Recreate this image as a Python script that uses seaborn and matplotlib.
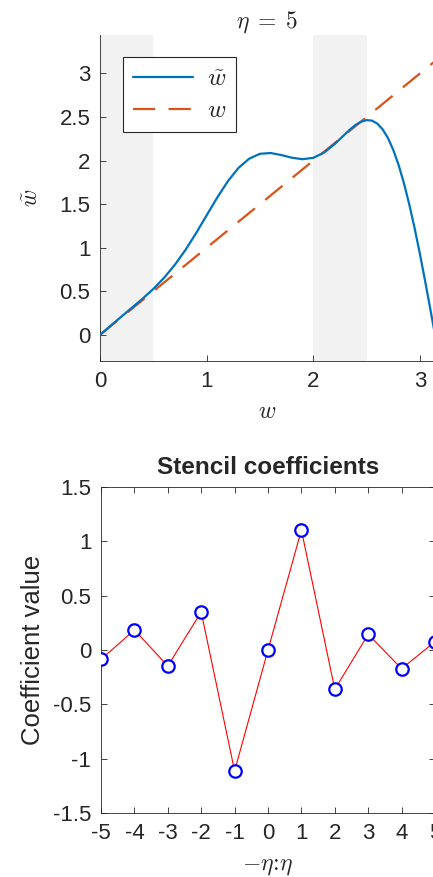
import matplotlib
matplotlib.use("Agg")
import matplotlib.pyplot as plt
import seaborn as sns

# modified wavenumber curve
w_grid = [0.0, 0.1, 0.2, 0.3, 0.4, 0.5, 0.6, 0.7, 0.8, 0.9, 1.0, 1.1, 1.2, 1.3,
          1.4, 1.5, 1.6, 1.7, 1.8, 1.9, 2.0, 2.1, 2.2, 2.3, 2.35, 2.4, 2.45, 2.5,
          2.55, 2.6, 2.65, 2.7, 2.75, 2.8, 2.85, 2.9, 2.95, 3.0, 3.05, 3.1, 3.1416]
w_tilde = [0.0, 0.105, 0.209, 0.312, 0.416, 0.527, 0.654, 0.801, 0.972, 1.165,
           1.372, 1.577, 1.765, 1.918, 2.023, 2.078, 2.087, 2.064, 2.033, 2.016,
           2.032, 2.091, 2.189, 2.306, 2.363, 2.412, 2.447, 2.465, 2.459, 2.425,
           2.360, 2.260, 2.124, 1.951, 1.741, 1.499, 1.227, 0.929, 0.611, 0.280, 0.0]
w_exact = [0.0, 3.1416]
bands = [(0.0, 0.5), (2.0, 2.5)]

# stencil coefficients
offsets = [-5, -4, -3, -2, -1, 0, 1, 2, 3, 4, 5]
coeffs = [-0.086, 0.184, -0.147, 0.35, -1.113, 0.0, 1.104, -0.362, 0.144, -0.172, 0.077]

sns.set_style("ticks")
plt.rcParams["font.family"] = ["Liberation Sans", "DejaVu Sans"]
plt.rcParams["mathtext.fontset"] = "cm"
plt.rcParams["axes.unicode_minus"] = False

ink = "#262626"
W, H = 433, 877
fig = plt.figure(figsize=(W / 100, H / 100), dpi=100)

# ---- top panel
ax1 = fig.add_axes([100 / W, 1 - 361 / H, 335 / W, 326 / H])
for a, b in bands:
    ax1.axvspan(a, b, color="#f2f2f2", lw=0, zorder=0)
sns.lineplot(x=w_grid, y=w_tilde, ax=ax1, color="#0072BD", lw=1.6,
             label=r"$\tilde{w}$", zorder=3)
sns.lineplot(x=w_exact, y=w_exact, ax=ax1, color="#D95319", lw=1.6,
             label=r"$w$", zorder=2)
ax1.lines[1].set_dashes((10, 6))
ax1.set_xlim(0, 3.1416)
ax1.set_ylim(-0.3, 3.4416)
ax1.set_xticks([0, 1, 2, 3])
ax1.set_yticks([0, 0.5, 1, 1.5, 2, 2.5, 3])
ax1.set_yticklabels(["0", "0.5", "1", "1.5", "2", "2.5", "3"])
ax1.set_title(r"$\eta\;=\;5$", fontsize=17, pad=4)
ax1.set_xlabel(r"$w$", fontsize=17, labelpad=7)
ax1.set_ylabel(r"$\tilde{w}$", fontsize=17, labelpad=12)
for s in ["top", "right"]:
    ax1.spines[s].set_visible(False)
leg = ax1.legend(loc="upper left", bbox_to_anchor=(0.069, 0.933), borderaxespad=0,
                 fontsize=18, handlelength=2.4, handletextpad=0.55, labelspacing=0.3,
                 borderpad=0.4, fancybox=False, framealpha=1, edgecolor=ink)
leg.get_frame().set_linewidth(0.8)

# ---- bottom panel
ax2 = fig.add_axes([101 / W, 1 - 813 / H, 334 / W, 326 / H])
sns.lineplot(x=offsets, y=coeffs, ax=ax2, color="red", lw=0.8, zorder=2)
sns.scatterplot(x=offsets, y=coeffs, ax=ax2, marker="o", s=80, facecolor="white",
                edgecolor="blue", linewidth=1.6, zorder=3)
ax2.set_xlim(-5, 5)
ax2.set_ylim(-1.5, 1.5)
ax2.set_xticks(offsets)
ax2.set_yticks([-1.5, -1, -0.5, 0, 0.5, 1, 1.5])
ax2.set_yticklabels(["-1.5", "-1", "-0.5", "0", "0.5", "1", "1.5"])
ax2.set_title("Stencil coefficients", fontsize=17.5, fontweight="bold", pad=9)
ax2.set_xlabel(r"$-\eta\!:\!\eta$", fontsize=17, labelpad=8)
ax2.set_ylabel("Coefficient value", fontsize=18.5, labelpad=6)
ax2.tick_params(top=True, right=True)

for ax in (ax1, ax2):
    ax.tick_params(direction="in", length=4, width=0.6, colors=ink, labelsize=16, pad=7)
    for sp in ax.spines.values():
        sp.set_color(ink)
        sp.set_linewidth(0.6)
    ax.xaxis.label.set_color(ink)
    ax.yaxis.label.set_color(ink)

fig.savefig("out.png", dpi=100)
plt.close(fig)
